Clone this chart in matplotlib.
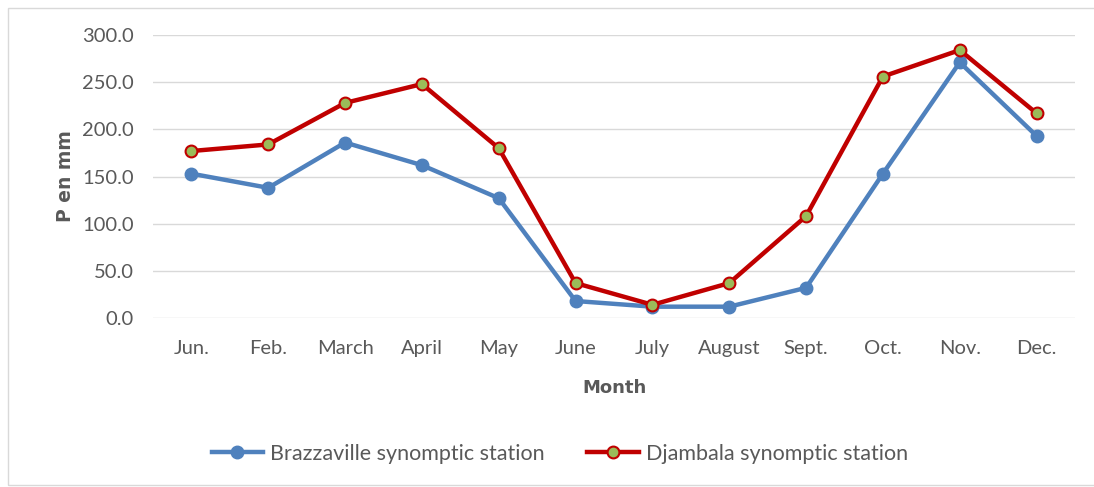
import matplotlib.pyplot as plt
import matplotlib.patches as patches

months = ['Jun.', 'Feb.', 'March', 'April', 'May', 'June', 'July',
          'August', 'Sept.', 'Oct.', 'Nov.', 'Dec.']
brazzaville = [153, 138, 186, 162, 127, 18, 12, 12, 32, 153, 271, 193]
djambala = [177, 184, 228, 248, 180, 37, 14, 37, 108, 256, 284, 217]
yticks = [0, 50, 100, 150, 200, 250, 300]

plt.rcParams['font.family'] = ['Lato', 'DejaVu Sans']
GREY = '#595959'

fig = plt.figure(figsize=(10.94, 4.87), dpi=100)
ax = fig.add_axes([153 / 1094, 169 / 487, 922 / 1094, 283 / 487])

x = range(len(months))
ax.plot(x, brazzaville, color='#4F81BD', lw=3.2, marker='o', ms=9,
        mfc='#4F81BD', mec='#4F81BD', label='Brazzaville synomptic station')
ax.plot(x, djambala, color='#C00000', lw=3.2, marker='o', ms=8.5,
        mfc='#9BBB59', mec='#C00000', mew=1.5, label='Djambala synomptic station')

ax.set_xlim(-0.5, len(months) - 0.5)
ax.set_ylim(0, 300)
ax.set_yticks(yticks)
ax.set_yticklabels(['%.1f' % v for v in yticks])
ax.set_xticks(list(x))
ax.set_xticklabels(months)
ax.grid(axis='y', color='#D9D9D9', lw=1)
ax.set_axisbelow(True)
for s in ax.spines.values():
    s.set_visible(False)
ax.tick_params(length=0, labelsize=14.5, colors=GREY)
ax.tick_params(axis='x', pad=16)
ax.tick_params(axis='y', pad=14)

ax.set_xlabel('Month', fontsize=13, fontweight='bold', color=GREY,
              family='DejaVu Sans', labelpad=16)
ax.set_ylabel('P en mm', fontsize=13.5, fontweight='bold', color=GREY,
              family='DejaVu Sans', labelpad=5)

ax.legend(loc='center', bbox_to_anchor=(0.441, -0.48), ncol=2, frameon=False,
          fontsize=15.5, labelcolor=GREY, handlelength=2.4, handletextpad=0.3,
          columnspacing=2)

fig.patches.append(patches.Rectangle((8 / 1094, 2 / 487), 1.0, 477 / 487,
                                     transform=fig.transFigure, fill=False,
                                     edgecolor='#D9D9D9', lw=1))

fig.savefig('out.png', dpi=100)
